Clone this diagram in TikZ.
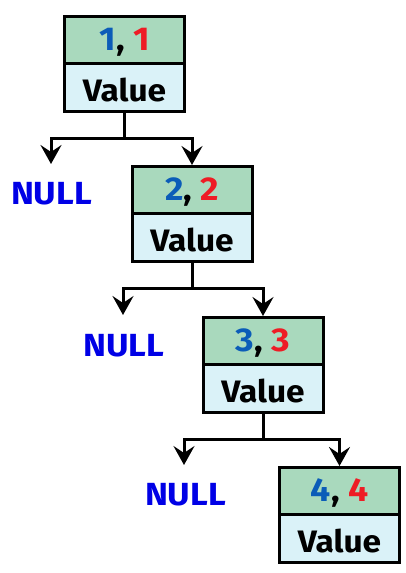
\documentclass[tikz,border=0pt]{standalone}
\usepackage{fontspec}
\setmainfont{Fira Sans}[FakeStretch=1.08]
\usetikzlibrary{arrows.meta}
\definecolor{keyfill}{HTML}{A9D9BD}
\definecolor{valfill}{HTML}{DAF2F8}
\definecolor{numblue}{HTML}{0B5CB8}
\definecolor{numred}{HTML}{EE1C25}
\definecolor{nullblue}{HTML}{0000E6}
\newcommand{\keypair}[1]{\raisebox{-2.5pt}[\height][\depth]{\textcolor{numblue}{#1}, \textcolor{numred}{#1}}}
\newcommand{\valtext}{\raisebox{-3pt}[\height][\depth]{Value}}
\begin{document}
\begin{tikzpicture}[x=1pt,y=-1pt,
  keybox/.style={draw=black,line width=3pt,fill=keyfill,minimum width=120pt,minimum height=47pt,inner sep=0pt,outer sep=0pt,font=\fontsize{33}{33}\selectfont\bfseries,anchor=north},
  valbox/.style={draw=black,line width=3pt,fill=valfill,minimum width=120pt,minimum height=48pt,inner sep=0pt,outer sep=0pt,font=\fontsize{31}{31}\selectfont\bfseries,anchor=north},
  nulltext/.style={text=nullblue,font=\fontsize{32}{32}\selectfont\bfseries,inner sep=0pt},
  link/.style={line width=3pt},
  arr/.style={line width=3pt,-{Stealth[length=19pt,width=21pt,inset=7pt]},shorten >=1pt}
]
\useasboundingbox (0,0) rectangle (406,573);
% boxes
\node[keybox] (k1) at (124.5,16) {\keypair{1}};
\node[valbox] (v1) at (k1.south) {\valtext};
\node[keybox] (k2) at (192,166) {\keypair{2}};
\node[valbox] (v2) at (k2.south) {\valtext};
\node[keybox] (k3) at (263,317) {\keypair{3}};
\node[valbox] (v3) at (k3.south) {\valtext};
\node[keybox] (k4) at (339.5,467) {\keypair{4}};
\node[valbox] (v4) at (k4.south) {\valtext};
% NULL labels
\node[nulltext] (n1) at (51.5,194) {NULL};
\node[nulltext] (n2) at (124,346) {NULL};
\node[nulltext] (n3) at (185.5,495) {NULL};
% junctions
\coordinate (j1) at (124.5,138);
\coordinate (j2) at (192,288.5);
\coordinate (j3) at (263,439);
\coordinate (l1) at (51,138);
\coordinate (l2) at (123,288.5);
\coordinate (l3) at (184,439);
\coordinate (t1) at (51,165);
\coordinate (t2) at (123,316);
\coordinate (t3) at (184,466);
% connectors
\draw[link] (v1.south) -- (j1);
\draw[link] (v2.south) -- (j2);
\draw[link] (v3.south) -- (j3);
\draw[arr] (j1) -- (l1) -- (t1);
\draw[arr] (j1) -| (k2.north);
\draw[arr] (j2) -- (l2) -- (t2);
\draw[arr] (j2) -| (k3.north);
\draw[arr] (j3) -- (l3) -- (t3);
\draw[arr] (j3) -| (k4.north);
\end{tikzpicture}
\end{document}
